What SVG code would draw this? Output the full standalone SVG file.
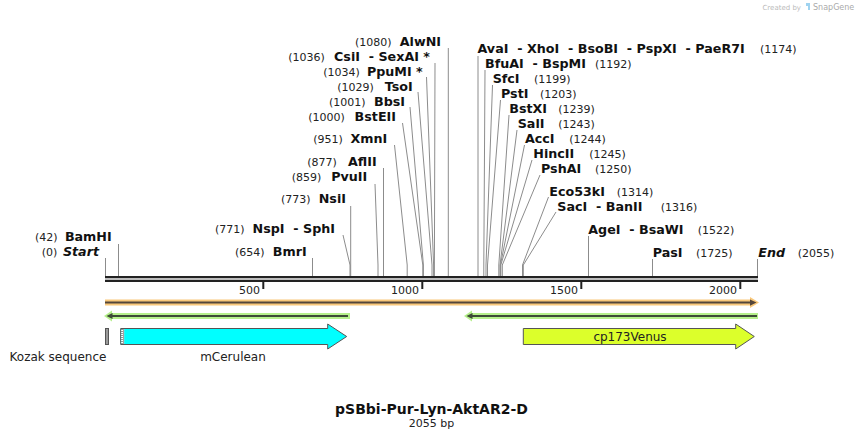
<svg xmlns="http://www.w3.org/2000/svg" width="864" height="439" viewBox="0 0 864 439">
<style>
text{font-family:"DejaVu Sans","Verdana",sans-serif;fill:#111}
.n{font-size:11px;fill:#222}
.b{font-size:12.7px;font-weight:bold}
.i{font-style:italic}
.e{text-anchor:end}
.m{text-anchor:middle}
.c line,.c polyline{stroke:#8c8c8c;stroke-width:1;fill:none}
.tk{stroke:#222;stroke-width:2}
.f{font-size:12px;fill:#222}
</style>
<rect width="864" height="439" fill="#fff"/>
<g id="watermark">
<text x="801" y="10" class="e" style="font-size:7px;fill:#bbb">Created by</text>
<path d="M806,3 h4 v7 h-2 v-4 h-2z" fill="#9fd3f0"/>
<text x="813" y="10" style="font-size:8px;fill:#aaa">SnapGene</text>
</g>
<g id="connectors" class="c">
<line x1="105.5" y1="258" x2="105.5" y2="276"/>
<line x1="118.5" y1="244" x2="118.5" y2="276"/>
<line x1="312.5" y1="258" x2="312.5" y2="276"/>
<polyline points="343,235 350,265 350,276"/>
<line x1="350.7" y1="206" x2="350.7" y2="276"/>
<polyline points="375,184 378,265 378,276"/>
<line x1="383.5" y1="168" x2="383.5" y2="276"/>
<polyline points="394.5,145 407.2,265 407.2,276"/>
<polyline points="402.5,123 422.8,265 422.8,276"/>
<polyline points="410,107 423.4,265 423.4,276"/>
<polyline points="418,92 432,265 432,276"/>
<polyline points="426.5,77 433.6,265 433.6,276"/>
<polyline points="435,63 434.4,265 434.4,276"/>
<line x1="448.3" y1="48" x2="448.3" y2="276"/>
<line x1="478" y1="56" x2="478" y2="276"/>
<polyline points="485,70 483.8,265 483.8,276"/>
<polyline points="492.5,85 486,265 486,276"/>
<polyline points="500.5,100 487.5,265 487.5,276"/>
<polyline points="509,115 498.8,265 498.8,276"/>
<polyline points="517,130 500,265 500,276"/>
<polyline points="524.5,145 500.4,265 500.4,276"/>
<polyline points="532,160 500.8,265 500.8,276"/>
<polyline points="540,175 502.3,265 502.3,276"/>
<polyline points="548.5,197 522.5,265 522.5,276"/>
<polyline points="556,212 523.3,265 523.3,276"/>
<line x1="588.5" y1="236" x2="588.5" y2="276"/>
<line x1="652.5" y1="259" x2="652.5" y2="276"/>
<line x1="757.5" y1="259" x2="757.5" y2="276"/>
</g>
<g id="backbone">
<rect x="105" y="276" width="653" height="2.3" fill="#222"/>
<rect x="105" y="279.7" width="653" height="2.3" fill="#222"/>
<line class="tk" x1="263.3" y1="282" x2="263.3" y2="289"/>
<line class="tk" x1="422.3" y1="282" x2="422.3" y2="289"/>
<line class="tk" x1="581.3" y1="282" x2="581.3" y2="289"/>
<line class="tk" x1="740.3" y1="282" x2="740.3" y2="289"/>
<text class="n e" x="260" y="293.5">500</text>
<text class="n e" x="419" y="293.5">1000</text>
<text class="n e" x="578" y="293.5">1500</text>
<text class="n e" x="737" y="293.5">2000</text>
</g>
<g id="orf-forward">
<rect x="105" y="299.5" width="646" height="6" fill="#f9c87b"/>
<polygon points="750,297 759,302.5 750,308" fill="#f9c87b"/>
<line x1="105" y1="302.6" x2="752" y2="302.6" stroke="#54463a" stroke-width="2"/>
<polygon points="750,299.5 756.5,302.6 750,305.7" fill="#54463a"/>
</g>
<g id="orf-reverse-1">
<rect x="111" y="313" width="239" height="6" fill="#b6f08c"/>
<polygon points="104,316 112,310.5 112,321.5" fill="#b6f08c"/>
<line x1="110" y1="316" x2="348" y2="316" stroke="#3d4a37" stroke-width="2"/>
<polygon points="106.5,316 112.5,313 112.5,319" fill="#3d4a37"/>
</g>
<g id="orf-reverse-2">
<rect x="471" y="313" width="287" height="6" fill="#b6f08c"/>
<polygon points="464,316 472,310.5 472,321.5" fill="#b6f08c"/>
<line x1="470" y1="316" x2="757" y2="316" stroke="#3d4a37" stroke-width="2"/>
<polygon points="466.5,316 472.5,313 472.5,319" fill="#3d4a37"/>
</g>
<g id="kozak">
<rect x="105.5" y="328.5" width="3" height="16" fill="#9a9a9a" stroke="#555" stroke-width="1"/>
<text class="f" x="58" y="361" text-anchor="middle">Kozak sequence</text>
</g>
<g id="mCerulean">
<polygon points="120.7,328.5 327.7,328.5 327.7,324 346.7,336.5 327.7,349 327.7,344.5 120.7,344.5" fill="#00ffff" stroke="#555" stroke-width="1"/>
<rect x="121.2" y="329" width="3" height="15" fill="#fff"/>
<line x1="122" y1="329" x2="122" y2="344" stroke="#000" stroke-width="0.8" stroke-dasharray="1,1"/>
<line x1="123.6" y1="329.5" x2="123.6" y2="344" stroke="#000" stroke-width="0.8" stroke-dasharray="1,1"/>
<text class="f m" x="233" y="361">mCerulean</text>
</g>
<g id="cp173Venus">
<polygon points="523.3,328.5 735.7,328.5 735.7,324 754.3,336.5 735.7,349 735.7,344.5 523.3,344.5" fill="#dcff2b" stroke="#555" stroke-width="1"/>
<text class="f m" x="630" y="341">cp173Venus</text>
</g>
<g id="AlwNI"><text class="n" x="355" y="46">(1080)</text><text class="b e" x="441" y="46">AlwNI</text></g>
<g id="CsiI-SexAI"><text class="n" x="288.3" y="61">(1036)</text><text class="b e" x="430" y="61">CsiI&#160;&#160;- SexAI *</text></g>
<g id="PpuMI"><text class="n" x="323.3" y="76">(1034)</text><text class="b e" x="422.7" y="76">PpuMI *</text></g>
<g id="TsoI"><text class="n" x="337.3" y="91">(1029)</text><text class="b e" x="412.7" y="91">TsoI</text></g>
<g id="BbsI"><text class="n" x="329" y="106">(1001)</text><text class="b e" x="405" y="106">BbsI</text></g>
<g id="BstEII"><text class="n" x="308.3" y="121">(1000)</text><text class="b e" x="396" y="121">BstEII</text></g>
<g id="XmnI"><text class="n" x="313.3" y="143">(951)</text><text class="b e" x="387.3" y="143">XmnI</text></g>
<g id="AflII"><text class="n" x="307.3" y="166">(877)</text><text class="b e" x="376.7" y="166">AflII</text></g>
<g id="PvuII"><text class="n" x="291.7" y="181">(859)</text><text class="b e" x="367.3" y="181">PvuII</text></g>
<g id="NsiI"><text class="n" x="281" y="203">(773)</text><text class="b e" x="346" y="203">NsiI</text></g>
<g id="NspI-SphI"><text class="n" x="215" y="233">(771)</text><text class="b e" x="335" y="233">NspI&#160;&#160;- SphI</text></g>
<g id="BamHI"><text class="n" x="35" y="241">(42)</text><text class="b e" x="111.7" y="241">BamHI</text></g>
<g id="Start"><text class="n" x="41.7" y="256">(0)</text><text class="b i e" x="99" y="256">Start</text></g>
<g id="BmrI"><text class="n" x="235" y="256">(654)</text><text class="b e" x="306.7" y="256">BmrI</text></g>
<g id="AvaI-group"><text class="b" x="477.5" y="53">AvaI&#160;&#160;- XhoI&#160;&#160;- BsoBI&#160;&#160;- PspXI&#160;&#160;- PaeR7I</text><text class="n" x="760" y="53">(1174)</text></g>
<g id="BfuAI-BspMI"><text class="b" x="485" y="68">BfuAI&#160;&#160;- BspMI</text><text class="n" x="595" y="68">(1192)</text></g>
<g id="SfcI"><text class="b" x="492.7" y="83">SfcI</text><text class="n" x="534" y="83">(1199)</text></g>
<g id="PstI"><text class="b" x="501" y="98">PstI</text><text class="n" x="540" y="98">(1203)</text></g>
<g id="BstXI"><text class="b" x="509.3" y="113">BstXI</text><text class="n" x="558.3" y="113">(1239)</text></g>
<g id="SalI"><text class="b" x="517.7" y="128">SalI</text><text class="n" x="558.3" y="128">(1243)</text></g>
<g id="AccI"><text class="b" x="525" y="143">AccI</text><text class="n" x="569.3" y="143">(1244)</text></g>
<g id="HincII"><text class="b" x="533.3" y="158">HincII</text><text class="n" x="589.3" y="158">(1245)</text></g>
<g id="PshAI"><text class="b" x="541" y="173">PshAI</text><text class="n" x="595" y="173">(1250)</text></g>
<g id="Eco53kI"><text class="b" x="549.3" y="196">Eco53kI</text><text class="n" x="616.7" y="196">(1314)</text></g>
<g id="SacI-BanII"><text class="b" x="557.3" y="211">SacI&#160;&#160;- BanII</text><text class="n" x="660.7" y="211">(1316)</text></g>
<g id="AgeI-BsaWI"><text class="b" x="588.3" y="234">AgeI&#160;&#160;- BsaWI</text><text class="n" x="697.7" y="234">(1522)</text></g>
<g id="PasI"><text class="b" x="652.7" y="257">PasI</text><text class="n" x="696" y="257">(1725)</text></g>
<g id="End"><text class="b i" x="758.3" y="257">End</text><text class="n" x="797.7" y="257">(2055)</text></g>
<g id="title">
<text class="m" x="431.5" y="414" style="font-size:14px;font-weight:bold">pSBbi-Pur-Lyn-AktAR2-D</text>
<text class="m" x="431.5" y="427" style="font-size:11px;fill:#222">2055 bp</text>
</g>
</svg>
